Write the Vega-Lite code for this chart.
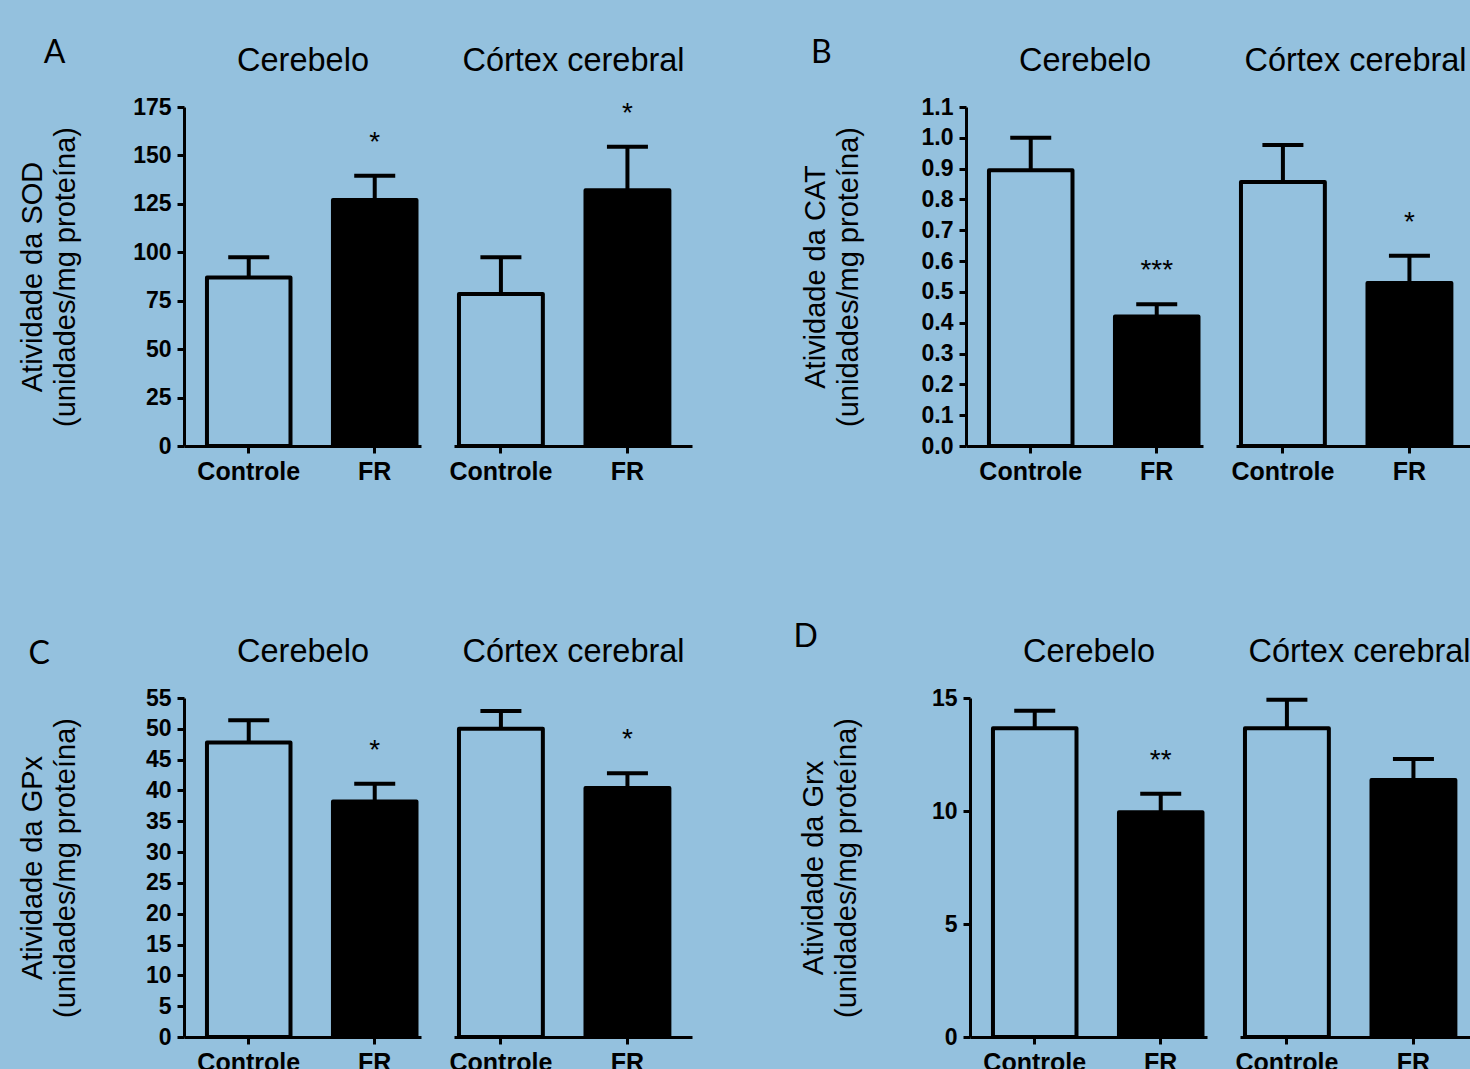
{
  "$schema": "https://vega.github.io/schema/vega-lite/v6.json",
  "background": "#94c1de",
  "padding": {"left": 18, "top": 37, "right": 20, "bottom": 10},
  "datasets": {
    "d": [
      {"p": "A", "r": "Cerebelo", "g": "Controle", "m": 87, "u": 97.5, "s": ""},
      {"p": "A", "r": "Cerebelo", "g": "FR", "m": 127, "u": 139.5, "s": "*"},
      {"p": "A", "r": "Córtex cerebral", "g": "Controle", "m": 78.5, "u": 97.5, "s": ""},
      {"p": "A", "r": "Córtex cerebral", "g": "FR", "m": 132, "u": 154.5, "s": "*"},
      {"p": "B", "r": "Cerebelo", "g": "Controle", "m": 0.895, "u": 1.0, "s": ""},
      {"p": "B", "r": "Cerebelo", "g": "FR", "m": 0.42, "u": 0.46, "s": "***"},
      {"p": "B", "r": "Córtex cerebral", "g": "Controle", "m": 0.857, "u": 0.977, "s": ""},
      {"p": "B", "r": "Córtex cerebral", "g": "FR", "m": 0.529, "u": 0.617, "s": "*"},
      {"p": "C", "r": "Cerebelo", "g": "Controle", "m": 47.8, "u": 51.4, "s": ""},
      {"p": "C", "r": "Cerebelo", "g": "FR", "m": 38.2, "u": 41.1, "s": "*"},
      {"p": "C", "r": "Córtex cerebral", "g": "Controle", "m": 50.0, "u": 52.9, "s": ""},
      {"p": "C", "r": "Córtex cerebral", "g": "FR", "m": 40.4, "u": 42.8, "s": "*"},
      {"p": "D", "r": "Cerebelo", "g": "Controle", "m": 13.66, "u": 14.44, "s": ""},
      {"p": "D", "r": "Cerebelo", "g": "FR", "m": 9.94, "u": 10.76, "s": "**"},
      {"p": "D", "r": "Córtex cerebral", "g": "Controle", "m": 13.66, "u": 14.92, "s": ""},
      {"p": "D", "r": "Córtex cerebral", "g": "FR", "m": 11.37, "u": 12.3, "s": ""}
    ]
  },
  "config": {
    "view": {"stroke": null},
    "axis": {
      "domainColor": "black", "domainWidth": 3, "tickColor": "black", "tickWidth": 3, "tickSize": 7,
      "labelColor": "black", "labelFont": "Liberation Sans", "labelFontWeight": "bold",
      "titleColor": "black", "titleFont": "Liberation Sans", "grid": false
    },
    "axisX": {"labelFontSize": 25, "labelPadding": 6, "labelAngle": 0, "title": null},
    "axisY": {"labelFontSize": 23, "labelPadding": 6, "labelOverlap": false, "titleFontSize": 29, "titleFontWeight": "normal", "titleLineHeight": 33, "titlePadding": 52}
  },
  "vconcat": [
    {
      "spacing": 109,
      "hconcat": [
        {
          "title": {"text": "A", "anchor": "start", "frame": "bounds", "baseline": "alphabetic", "font": "Lato", "fontSize": 32, "fontWeight": "normal", "color": "black", "offset": -51, "dx": 25},
          "spacing": 28,
          "hconcat": [
            {
              "width": 237, "height": 339,
              "data": {"name": "d"},
              "transform": [{"filter": "datum.p === 'A' && datum.r === 'Cerebelo'"}],
              "resolve": {"axis": {"x": "independent"}},
              "layer": [
                {"mark": {"type": "bar", "stroke": "black", "strokeWidth": 4, "strokeJoin": "round"},
                 "encoding": {
                   "x": {"field": "g", "type": "nominal", "sort": ["Controle", "FR"], "scale": {"paddingInner": 0.337, "paddingOuter": 0.109, "align": 0.836}},
                   "y": {"field": "m", "type": "quantitative", "scale": {"domain": [0, 175], "nice": false}, "axis": {"values": [0, 25, 50, 75, 100, 125, 150, 175], "title": ["Atividade da SOD", "(unidades/mg proteína)"]}},
                   "fill": {"field": "g", "type": "nominal", "scale": {"domain": ["Controle", "FR"], "range": ["rgba(0,0,0,0)", "black"]}, "legend": null}}},
                {"mark": {"type": "rule", "strokeWidth": 4, "color": "black"},
                 "encoding": {"x": {"field": "g", "type": "nominal", "sort": ["Controle", "FR"], "axis": null}, "y": {"field": "m", "type": "quantitative", "axis": {"values": [0, 25, 50, 75, 100, 125, 150, 175], "title": ["Atividade da SOD", "(unidades/mg proteína)"]}}, "y2": {"field": "u"}}},
                {"mark": {"type": "tick", "thickness": 4, "color": "black", "opacity": 1},
                 "encoding": {"x": {"field": "g", "type": "nominal", "sort": ["Controle", "FR"], "axis": null}, "y": {"field": "u", "type": "quantitative", "axis": {"values": [0, 25, 50, 75, 100, 125, 150, 175], "title": ["Atividade da SOD", "(unidades/mg proteína)"]}}, "size": {"value": 41}}},
                {"mark": {"type": "text", "dy": -25, "fontSize": 28, "baseline": "alphabetic", "font": "Liberation Sans", "color": "black"},
                 "encoding": {"x": {"field": "g", "type": "nominal", "sort": ["Controle", "FR"], "axis": {"orient": "top", "domain": false, "ticks": false, "labels": false, "title": "Cerebelo", "titleFontSize": 32.5, "titleFontWeight": "normal", "titlePadding": 37, "titleBaseline": "alphabetic"}}, "y": {"field": "u", "type": "quantitative", "axis": {"values": [0, 25, 50, 75, 100, 125, 150, 175], "title": ["Atividade da SOD", "(unidades/mg proteína)"]}}, "text": {"field": "s"}}}
              ]
            },
            {
              "width": 238, "height": 339,
              "data": {"name": "d"},
              "transform": [{"filter": "datum.p === 'A' && datum.r === 'Córtex cerebral'"}],
              "resolve": {"axis": {"x": "independent"}},
              "layer": [
                {"mark": {"type": "bar", "stroke": "black", "strokeWidth": 4, "strokeJoin": "round"},
                 "encoding": {
                   "x": {"field": "g", "type": "nominal", "sort": ["Controle", "FR"], "scale": {"paddingInner": 0.337, "paddingOuter": 0.109, "align": 0.18}},
                   "y": {"field": "m", "type": "quantitative", "scale": {"domain": [0, 175], "nice": false}, "axis": null},
                   "fill": {"field": "g", "type": "nominal", "scale": {"domain": ["Controle", "FR"], "range": ["rgba(0,0,0,0)", "black"]}, "legend": null}}},
                {"mark": {"type": "rule", "strokeWidth": 4, "color": "black"},
                 "encoding": {"x": {"field": "g", "type": "nominal", "sort": ["Controle", "FR"], "axis": null}, "y": {"field": "m", "type": "quantitative", "axis": null}, "y2": {"field": "u"}}},
                {"mark": {"type": "tick", "thickness": 4, "color": "black", "opacity": 1},
                 "encoding": {"x": {"field": "g", "type": "nominal", "sort": ["Controle", "FR"], "axis": null}, "y": {"field": "u", "type": "quantitative", "axis": null}, "size": {"value": 41}}},
                {"mark": {"type": "text", "dy": -25, "fontSize": 28, "baseline": "alphabetic", "font": "Liberation Sans", "color": "black"},
                 "encoding": {"x": {"field": "g", "type": "nominal", "sort": ["Controle", "FR"], "axis": {"orient": "top", "domain": false, "ticks": false, "labels": false, "title": "Córtex cerebral", "titleFontSize": 32.5, "titleFontWeight": "normal", "titlePadding": 37, "titleBaseline": "alphabetic"}}, "y": {"field": "u", "type": "quantitative", "axis": null}, "text": {"field": "s"}}}
              ]
            }
          ]
        },
        {
          "title": {"text": "B", "anchor": "start", "frame": "bounds", "baseline": "alphabetic", "font": "Lato", "fontSize": 32, "fontWeight": "normal", "color": "black", "offset": -51, "dx": 10},
          "spacing": 28,
          "hconcat": [
            {
              "width": 237, "height": 339,
              "data": {"name": "d"},
              "transform": [{"filter": "datum.p === 'B' && datum.r === 'Cerebelo'"}],
              "resolve": {"axis": {"x": "independent"}},
              "layer": [
                {"mark": {"type": "bar", "stroke": "black", "strokeWidth": 4, "strokeJoin": "round"},
                 "encoding": {
                   "x": {"field": "g", "type": "nominal", "sort": ["Controle", "FR"], "scale": {"paddingInner": 0.337, "paddingOuter": 0.109, "align": 0.836}},
                   "y": {"field": "m", "type": "quantitative", "scale": {"domain": [0, 1.1], "nice": false}, "axis": {"values": [0, 0.1, 0.2, 0.3, 0.4, 0.5, 0.6, 0.7, 0.8, 0.9, 1.0, 1.1], "format": ".1f", "title": ["Atividade da CAT", "(unidades/mg proteína)"], "titlePadding": 58}},
                   "fill": {"field": "g", "type": "nominal", "scale": {"domain": ["Controle", "FR"], "range": ["rgba(0,0,0,0)", "black"]}, "legend": null}}},
                {"mark": {"type": "rule", "strokeWidth": 4, "color": "black"},
                 "encoding": {"x": {"field": "g", "type": "nominal", "sort": ["Controle", "FR"], "axis": null}, "y": {"field": "m", "type": "quantitative", "axis": {"values": [0, 0.1, 0.2, 0.3, 0.4, 0.5, 0.6, 0.7, 0.8, 0.9, 1.0, 1.1], "format": ".1f", "title": ["Atividade da CAT", "(unidades/mg proteína)"], "titlePadding": 58}}, "y2": {"field": "u"}}},
                {"mark": {"type": "tick", "thickness": 4, "color": "black", "opacity": 1},
                 "encoding": {"x": {"field": "g", "type": "nominal", "sort": ["Controle", "FR"], "axis": null}, "y": {"field": "u", "type": "quantitative", "axis": {"values": [0, 0.1, 0.2, 0.3, 0.4, 0.5, 0.6, 0.7, 0.8, 0.9, 1.0, 1.1], "format": ".1f", "title": ["Atividade da CAT", "(unidades/mg proteína)"], "titlePadding": 58}}, "size": {"value": 41}}},
                {"mark": {"type": "text", "dy": -25, "fontSize": 28, "baseline": "alphabetic", "font": "Liberation Sans", "color": "black"},
                 "encoding": {"x": {"field": "g", "type": "nominal", "sort": ["Controle", "FR"], "axis": {"orient": "top", "domain": false, "ticks": false, "labels": false, "title": "Cerebelo", "titleFontSize": 32.5, "titleFontWeight": "normal", "titlePadding": 37, "titleBaseline": "alphabetic"}}, "y": {"field": "u", "type": "quantitative", "axis": {"values": [0, 0.1, 0.2, 0.3, 0.4, 0.5, 0.6, 0.7, 0.8, 0.9, 1.0, 1.1], "format": ".1f", "title": ["Atividade da CAT", "(unidades/mg proteína)"], "titlePadding": 58}}, "text": {"field": "s"}}}
              ]
            },
            {
              "width": 238, "height": 339,
              "data": {"name": "d"},
              "transform": [{"filter": "datum.p === 'B' && datum.r === 'Córtex cerebral'"}],
              "resolve": {"axis": {"x": "independent"}},
              "layer": [
                {"mark": {"type": "bar", "stroke": "black", "strokeWidth": 4, "strokeJoin": "round"},
                 "encoding": {
                   "x": {"field": "g", "type": "nominal", "sort": ["Controle", "FR"], "scale": {"paddingInner": 0.337, "paddingOuter": 0.109, "align": 0.18}},
                   "y": {"field": "m", "type": "quantitative", "scale": {"domain": [0, 1.1], "nice": false}, "axis": null},
                   "fill": {"field": "g", "type": "nominal", "scale": {"domain": ["Controle", "FR"], "range": ["rgba(0,0,0,0)", "black"]}, "legend": null}}},
                {"mark": {"type": "rule", "strokeWidth": 4, "color": "black"},
                 "encoding": {"x": {"field": "g", "type": "nominal", "sort": ["Controle", "FR"], "axis": null}, "y": {"field": "m", "type": "quantitative", "axis": null}, "y2": {"field": "u"}}},
                {"mark": {"type": "tick", "thickness": 4, "color": "black", "opacity": 1},
                 "encoding": {"x": {"field": "g", "type": "nominal", "sort": ["Controle", "FR"], "axis": null}, "y": {"field": "u", "type": "quantitative", "axis": null}, "size": {"value": 41}}},
                {"mark": {"type": "text", "dy": -25, "fontSize": 28, "baseline": "alphabetic", "font": "Liberation Sans", "color": "black"},
                 "encoding": {"x": {"field": "g", "type": "nominal", "sort": ["Controle", "FR"], "axis": {"orient": "top", "domain": false, "ticks": false, "labels": false, "title": "Córtex cerebral", "titleFontSize": 32.5, "titleFontWeight": "normal", "titlePadding": 37, "titleBaseline": "alphabetic"}}, "y": {"field": "u", "type": "quantitative", "axis": null}, "text": {"field": "s"}}}
              ]
            }
          ]
        }
      ]
    },
    {
      "spacing": 101,
      "hconcat": [
        {
          "title": {"text": "C", "anchor": "start", "frame": "bounds", "baseline": "alphabetic", "font": "Lato", "fontSize": 32, "fontWeight": "normal", "color": "black", "offset": -61, "dx": 10},
          "spacing": 28,
          "hconcat": [
            {
              "width": 237, "height": 339,
              "data": {"name": "d"},
              "transform": [{"filter": "datum.p === 'C' && datum.r === 'Cerebelo'"}],
              "resolve": {"axis": {"x": "independent"}},
              "layer": [
                {"mark": {"type": "bar", "stroke": "black", "strokeWidth": 4, "strokeJoin": "round"},
                 "encoding": {
                   "x": {"field": "g", "type": "nominal", "sort": ["Controle", "FR"], "scale": {"paddingInner": 0.337, "paddingOuter": 0.109, "align": 0.836}},
                   "y": {"field": "m", "type": "quantitative", "scale": {"domain": [0, 55], "nice": false}, "axis": {"values": [0, 5, 10, 15, 20, 25, 30, 35, 40, 45, 50, 55], "title": ["Atividade da GPx", "(unidades/mg proteína)"], "titlePadding": 65}},
                   "fill": {"field": "g", "type": "nominal", "scale": {"domain": ["Controle", "FR"], "range": ["rgba(0,0,0,0)", "black"]}, "legend": null}}},
                {"mark": {"type": "rule", "strokeWidth": 4, "color": "black"},
                 "encoding": {"x": {"field": "g", "type": "nominal", "sort": ["Controle", "FR"], "axis": null}, "y": {"field": "m", "type": "quantitative", "axis": {"values": [0, 5, 10, 15, 20, 25, 30, 35, 40, 45, 50, 55], "title": ["Atividade da GPx", "(unidades/mg proteína)"], "titlePadding": 65}}, "y2": {"field": "u"}}},
                {"mark": {"type": "tick", "thickness": 4, "color": "black", "opacity": 1},
                 "encoding": {"x": {"field": "g", "type": "nominal", "sort": ["Controle", "FR"], "axis": null}, "y": {"field": "u", "type": "quantitative", "axis": {"values": [0, 5, 10, 15, 20, 25, 30, 35, 40, 45, 50, 55], "title": ["Atividade da GPx", "(unidades/mg proteína)"], "titlePadding": 65}}, "size": {"value": 41}}},
                {"mark": {"type": "text", "dy": -25, "fontSize": 28, "baseline": "alphabetic", "font": "Liberation Sans", "color": "black"},
                 "encoding": {"x": {"field": "g", "type": "nominal", "sort": ["Controle", "FR"], "axis": {"orient": "top", "domain": false, "ticks": false, "labels": false, "title": "Cerebelo", "titleFontSize": 32.5, "titleFontWeight": "normal", "titlePadding": 37, "titleBaseline": "alphabetic"}}, "y": {"field": "u", "type": "quantitative", "axis": {"values": [0, 5, 10, 15, 20, 25, 30, 35, 40, 45, 50, 55], "title": ["Atividade da GPx", "(unidades/mg proteína)"], "titlePadding": 65}}, "text": {"field": "s"}}}
              ]
            },
            {
              "width": 238, "height": 339,
              "data": {"name": "d"},
              "transform": [{"filter": "datum.p === 'C' && datum.r === 'Córtex cerebral'"}],
              "resolve": {"axis": {"x": "independent"}},
              "layer": [
                {"mark": {"type": "bar", "stroke": "black", "strokeWidth": 4, "strokeJoin": "round"},
                 "encoding": {
                   "x": {"field": "g", "type": "nominal", "sort": ["Controle", "FR"], "scale": {"paddingInner": 0.337, "paddingOuter": 0.109, "align": 0.18}},
                   "y": {"field": "m", "type": "quantitative", "scale": {"domain": [0, 55], "nice": false}, "axis": null},
                   "fill": {"field": "g", "type": "nominal", "scale": {"domain": ["Controle", "FR"], "range": ["rgba(0,0,0,0)", "black"]}, "legend": null}}},
                {"mark": {"type": "rule", "strokeWidth": 4, "color": "black"},
                 "encoding": {"x": {"field": "g", "type": "nominal", "sort": ["Controle", "FR"], "axis": null}, "y": {"field": "m", "type": "quantitative", "axis": null}, "y2": {"field": "u"}}},
                {"mark": {"type": "tick", "thickness": 4, "color": "black", "opacity": 1},
                 "encoding": {"x": {"field": "g", "type": "nominal", "sort": ["Controle", "FR"], "axis": null}, "y": {"field": "u", "type": "quantitative", "axis": null}, "size": {"value": 41}}},
                {"mark": {"type": "text", "dy": -25, "fontSize": 28, "baseline": "alphabetic", "font": "Liberation Sans", "color": "black"},
                 "encoding": {"x": {"field": "g", "type": "nominal", "sort": ["Controle", "FR"], "axis": {"orient": "top", "domain": false, "ticks": false, "labels": false, "title": "Córtex cerebral", "titleFontSize": 32.5, "titleFontWeight": "normal", "titlePadding": 37, "titleBaseline": "alphabetic"}}, "y": {"field": "u", "type": "quantitative", "axis": null}, "text": {"field": "s"}}}
              ]
            }
          ]
        },
        {
          "title": {"text": "D", "anchor": "start", "frame": "bounds", "baseline": "alphabetic", "font": "Lato", "fontSize": 32, "fontWeight": "normal", "color": "black", "offset": -44, "dx": -6},
          "spacing": 28,
          "hconcat": [
            {
              "width": 237, "height": 339,
              "data": {"name": "d"},
              "transform": [{"filter": "datum.p === 'D' && datum.r === 'Cerebelo'"}],
              "resolve": {"axis": {"x": "independent"}},
              "layer": [
                {"mark": {"type": "bar", "stroke": "black", "strokeWidth": 4, "strokeJoin": "round"},
                 "encoding": {
                   "x": {"field": "g", "type": "nominal", "sort": ["Controle", "FR"], "scale": {"paddingInner": 0.337, "paddingOuter": 0.109, "align": 0.836}},
                   "y": {"field": "m", "type": "quantitative", "scale": {"domain": [0, 15], "nice": false}, "axis": {"values": [0, 5, 10, 15], "title": ["Atividade da Grx", "(unidades/mg proteína)"], "titlePadding": 70}},
                   "fill": {"field": "g", "type": "nominal", "scale": {"domain": ["Controle", "FR"], "range": ["rgba(0,0,0,0)", "black"]}, "legend": null}}},
                {"mark": {"type": "rule", "strokeWidth": 4, "color": "black"},
                 "encoding": {"x": {"field": "g", "type": "nominal", "sort": ["Controle", "FR"], "axis": null}, "y": {"field": "m", "type": "quantitative", "axis": {"values": [0, 5, 10, 15], "title": ["Atividade da Grx", "(unidades/mg proteína)"], "titlePadding": 70}}, "y2": {"field": "u"}}},
                {"mark": {"type": "tick", "thickness": 4, "color": "black", "opacity": 1},
                 "encoding": {"x": {"field": "g", "type": "nominal", "sort": ["Controle", "FR"], "axis": null}, "y": {"field": "u", "type": "quantitative", "axis": {"values": [0, 5, 10, 15], "title": ["Atividade da Grx", "(unidades/mg proteína)"], "titlePadding": 70}}, "size": {"value": 41}}},
                {"mark": {"type": "text", "dy": -25, "fontSize": 28, "baseline": "alphabetic", "font": "Liberation Sans", "color": "black"},
                 "encoding": {"x": {"field": "g", "type": "nominal", "sort": ["Controle", "FR"], "axis": {"orient": "top", "domain": false, "ticks": false, "labels": false, "title": "Cerebelo", "titleFontSize": 32.5, "titleFontWeight": "normal", "titlePadding": 37, "titleBaseline": "alphabetic"}}, "y": {"field": "u", "type": "quantitative", "axis": {"values": [0, 5, 10, 15], "title": ["Atividade da Grx", "(unidades/mg proteína)"], "titlePadding": 70}}, "text": {"field": "s"}}}
              ]
            },
            {
              "width": 238, "height": 339,
              "data": {"name": "d"},
              "transform": [{"filter": "datum.p === 'D' && datum.r === 'Córtex cerebral'"}],
              "resolve": {"axis": {"x": "independent"}},
              "layer": [
                {"mark": {"type": "bar", "stroke": "black", "strokeWidth": 4, "strokeJoin": "round"},
                 "encoding": {
                   "x": {"field": "g", "type": "nominal", "sort": ["Controle", "FR"], "scale": {"paddingInner": 0.337, "paddingOuter": 0.109, "align": 0.18}},
                   "y": {"field": "m", "type": "quantitative", "scale": {"domain": [0, 15], "nice": false}, "axis": null},
                   "fill": {"field": "g", "type": "nominal", "scale": {"domain": ["Controle", "FR"], "range": ["rgba(0,0,0,0)", "black"]}, "legend": null}}},
                {"mark": {"type": "rule", "strokeWidth": 4, "color": "black"},
                 "encoding": {"x": {"field": "g", "type": "nominal", "sort": ["Controle", "FR"], "axis": null}, "y": {"field": "m", "type": "quantitative", "axis": null}, "y2": {"field": "u"}}},
                {"mark": {"type": "tick", "thickness": 4, "color": "black", "opacity": 1},
                 "encoding": {"x": {"field": "g", "type": "nominal", "sort": ["Controle", "FR"], "axis": null}, "y": {"field": "u", "type": "quantitative", "axis": null}, "size": {"value": 41}}},
                {"mark": {"type": "text", "dy": -25, "fontSize": 28, "baseline": "alphabetic", "font": "Liberation Sans", "color": "black"},
                 "encoding": {"x": {"field": "g", "type": "nominal", "sort": ["Controle", "FR"], "axis": {"orient": "top", "domain": false, "ticks": false, "labels": false, "title": "Córtex cerebral", "titleFontSize": 32.5, "titleFontWeight": "normal", "titlePadding": 37, "titleBaseline": "alphabetic"}}, "y": {"field": "u", "type": "quantitative", "axis": null}, "text": {"field": "s"}}}
              ]
            }
          ]
        }
      ]
    }
  ],
  "spacing": 137
}
